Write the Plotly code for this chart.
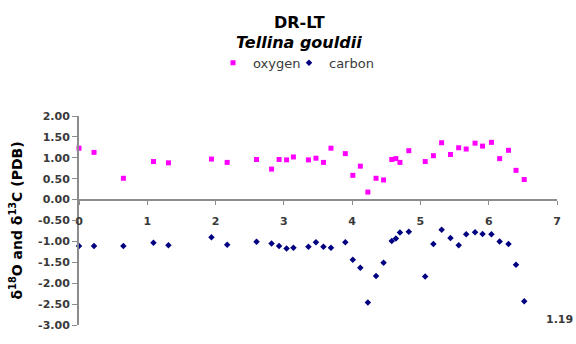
import plotly.graph_objects as go

# distance along shell (x) and isotope values
distance = [0.00, 0.22, 0.65, 1.09, 1.31, 1.94, 2.17, 2.60, 2.82, 2.93,
            3.04, 3.14, 3.36, 3.47, 3.58, 3.69, 3.90, 4.01, 4.12, 4.23,
            4.35, 4.46, 4.58, 4.64, 4.70, 4.83, 5.07, 5.19, 5.31, 5.44,
            5.56, 5.67, 5.80, 5.91, 6.04, 6.16, 6.29, 6.40, 6.52]
oxygen = [1.23, 1.13, 0.51, 0.91, 0.88, 0.97, 0.89, 0.96, 0.73, 0.96,
          0.95, 1.02, 0.95, 0.99, 0.89, 1.23, 1.10, 0.58, 0.80, 0.18,
          0.51, 0.47, 0.96, 0.98, 0.89, 1.17, 0.91, 1.05, 1.36, 1.08,
          1.24, 1.21, 1.35, 1.28, 1.37, 0.98, 1.18, 0.70, 0.48]
carbon = [-1.11, -1.11, -1.11, -1.03, -1.09, -0.90, -1.08, -1.01, -1.05, -1.11,
          -1.17, -1.15, -1.13, -1.02, -1.13, -1.15, -1.02, -1.44, -1.63, -2.46,
          -1.83, -1.51, -0.99, -0.93, -0.79, -0.77, -1.84, -1.06, -0.72, -0.92,
          -1.09, -0.83, -0.78, -0.82, -0.83, -1.00, -1.06, -1.56, -2.43]

y_tick_vals = [-3.0, -2.5, -2.0, -1.5, -1.0, -0.5, 0.0, 0.5, 1.0, 1.5, 2.0]
y_tick_text = ["-3.00", "-2.50", "-2.00", "-1.50", "-1.00", "-0.50",
               "0.00", "0.50", "1.00", "1.50", "2.00"]
x_tick_vals = [0, 1, 2, 3, 4, 5, 6, 7]

W, H = 576, 344
ML, MR, MT, MB = 79, 19, 116, 12
PW, PH = W - ML - MR, H - MT - MB

def px_x(p):
    return (p - ML) / PW

def px_y(p):
    return (H - MB - p) / PH

AXIS_GRAY = "#8c8c8c"
TXT_GRAY = "#3a3a3a"
tick_font = dict(family="DejaVu Sans", size=11, color=TXT_GRAY, weight="bold")
legend_font = dict(family="DejaVu Sans", size=13, color=TXT_GRAY)

fig = go.Figure()
fig.add_trace(go.Scatter(
    x=distance, y=oxygen, mode="markers", name="oxygen", legend="legend",
    marker=dict(symbol="square", size=5, color="#ff00ff"),
    cliponaxis=False))
fig.add_trace(go.Scatter(
    x=distance, y=carbon, mode="markers", name="carbon", legend="legend2",
    marker=dict(symbol="diamond", size=5, color="#000080"),
    cliponaxis=False))

fig.update_layout(
    width=W, height=H,
    margin=dict(l=ML, r=MR, t=MT, b=MB, pad=0),
    paper_bgcolor="white", plot_bgcolor="white",
    showlegend=True,
    legend=dict(x=px_x(213), y=px_y(61), xanchor="left", yanchor="middle",
                font=legend_font, itemwidth=30, bgcolor="rgba(0,0,0,0)"),
    legend2=dict(x=px_x(289), y=px_y(61), xanchor="left", yanchor="middle",
                 font=legend_font, itemwidth=30, bgcolor="rgba(0,0,0,0)"),
    xaxis=dict(range=[0, 7], tickvals=x_tick_vals,
               showgrid=False, zeroline=False,
               showline=True, linecolor=AXIS_GRAY, linewidth=2,
               ticks="outside", ticklen=4, tickcolor=AXIS_GRAY, tickwidth=1,
               ticklabelstandoff=7,
               anchor="free", position=0.6,
               tickfont=tick_font),
    yaxis=dict(range=[-3, 2], tickvals=y_tick_vals, ticktext=y_tick_text,
               showgrid=False, zeroline=False,
               showline=True, linecolor=AXIS_GRAY, linewidth=2,
               ticks="outside", ticklen=5, tickcolor=AXIS_GRAY, tickwidth=1,
               tickfont=tick_font),
)

fig.add_annotation(text="<b>DR-LT</b>", xref="paper", yref="paper",
                   x=px_x(299), y=px_y(19), xanchor="center", yanchor="middle",
                   showarrow=False,
                   font=dict(family="DejaVu Sans", size=16, color="black"))
fig.add_annotation(text="<b><i>Tellina gouldii</i></b>", xref="paper", yref="paper",
                   x=px_x(299), y=px_y(40), xanchor="center", yanchor="middle",
                   showarrow=False,
                   font=dict(family="DejaVu Sans", size=16, color="black"))
fig.add_annotation(text="<b>δ<sup>18</sup>O and δ<sup>13</sup>C (PDB)</b>",
                   xref="paper", yref="paper", x=px_x(16), y=0.5,
                   xanchor="center", yanchor="middle", textangle=-90,
                   showarrow=False,
                   font=dict(family="DejaVu Sans", size=14, color="black"))
fig.add_annotation(text="<b>1.19</b>", xref="paper", yref="paper",
                   x=px_x(575), y=px_y(326), xanchor="right", yanchor="middle",
                   showarrow=False,
                   font=dict(family="DejaVu Sans", size=11, color=TXT_GRAY))

fig.write_html("out.html", config={"displayModeBar": False},
               post_script="document.body.style.margin='0';")
